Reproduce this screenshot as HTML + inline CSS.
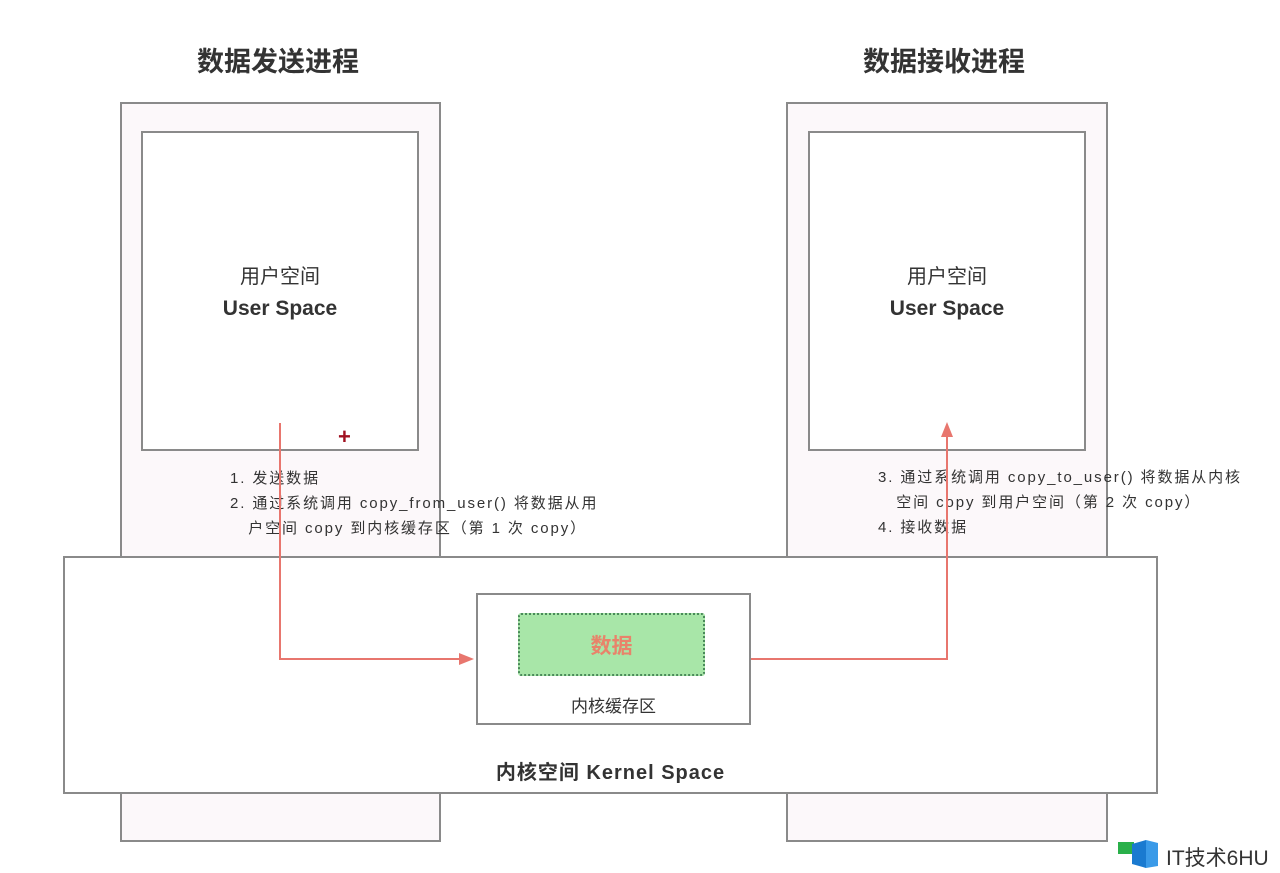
<!DOCTYPE html>
<html><head><meta charset="utf-8"><style>
body{margin:0;width:1280px;height:873px;background:#fff;position:relative;overflow:hidden;font-family:"Liberation Sans","Noto Sans CJK SC",sans-serif;color:#333}
.b{position:absolute;box-sizing:border-box;border:2px solid #8a8a8a}
.t{position:absolute;white-space:nowrap}
</style></head><body>
<div class="t" style="left:197px;top:40px;font-size:27px;font-weight:bold;color:#333">数据发送进程</div>
<div class="t" style="left:863px;top:40px;font-size:27px;font-weight:bold;color:#333">数据接收进程</div>
<div class="b" style="left:120px;top:102px;width:321px;height:740px;background:#fcf8fa"></div>
<div class="b" style="left:141px;top:131px;width:278px;height:320px;background:#fff"></div>
<div class="b" style="left:786px;top:102px;width:322px;height:740px;background:#fcf8fa"></div>
<div class="b" style="left:808px;top:131px;width:278px;height:320px;background:#fff"></div>
<div class="t" style="left:141px;width:278px;text-align:center;top:262px;font-size:20px;line-height:31px;color:#333">用户空间<br><b style="font-size:21px">User Space</b></div>
<div class="t" style="left:808px;width:278px;text-align:center;top:262px;font-size:20px;line-height:31px;color:#333">用户空间<br><b style="font-size:21px">User Space</b></div>
<div class="t" style="left:338px;top:424px;color:#a01020;font-size:22px;font-weight:bold">+</div>
<div class="t" style="left:230px;top:466px;font-size:15px;line-height:25px;letter-spacing:1.9px">1. 发送数据<br>2. 通过系统调用 copy_from_user() 将数据从用<br>&nbsp;&nbsp;&nbsp;户空间 copy 到内核缓存区（第 1 次 copy）</div>
<div class="t" style="left:878px;top:465px;font-size:15px;line-height:25px;letter-spacing:1.9px">3. 通过系统调用 copy_to_user() 将数据从内核<br>&nbsp;&nbsp;&nbsp;空间 copy 到用户空间（第 2 次 copy）<br>4. 接收数据</div>
<div class="b" style="left:63px;top:556px;width:1095px;height:238px;background:#fff"></div>
<div class="t" style="left:63px;width:1095px;text-align:center;top:756px;font-size:20px;font-weight:bold;letter-spacing:1px;color:#333">内核空间 Kernel Space</div>
<div class="b" style="left:476px;top:593px;width:275px;height:132px;background:#fff"></div>
<div class="t" style="left:476px;width:275px;text-align:center;top:692px;font-size:17px">内核缓存区</div>
<div style="position:absolute;left:518px;top:613px;width:187px;height:63px;box-sizing:border-box;border:2px dotted #4a8a5a;background:#a8e6a8;border-radius:3px"></div>
<div class="t" style="left:518px;width:187px;text-align:center;top:630px;font-size:21px;font-weight:bold;color:#e8836a">数据</div>
<svg style="position:absolute;left:0;top:0" width="1280" height="873">
<g stroke="#e8766e" stroke-width="2" fill="none">
<polyline points="280,423 280,659 462,659"/>
<polyline points="751,659 947,659 947,436"/>
</g>
<polygon points="474,659 459,653 459,665" fill="#e8766e"/>
<polygon points="947,422 941,437 953,437" fill="#e8766e"/>
<rect x="1118" y="842" width="16" height="12" fill="#2ab04a"/>
<polygon points="1132,844 1146,840 1146,868 1132,864" fill="#1a7ad0"/>
<polygon points="1146,840 1158,843 1158,866 1146,868" fill="#3a9ae8"/>
</svg>
<div class="t" style="left:1166px;top:842px;font-size:21px;color:#333">IT技术6HU</div>
</body></html>
